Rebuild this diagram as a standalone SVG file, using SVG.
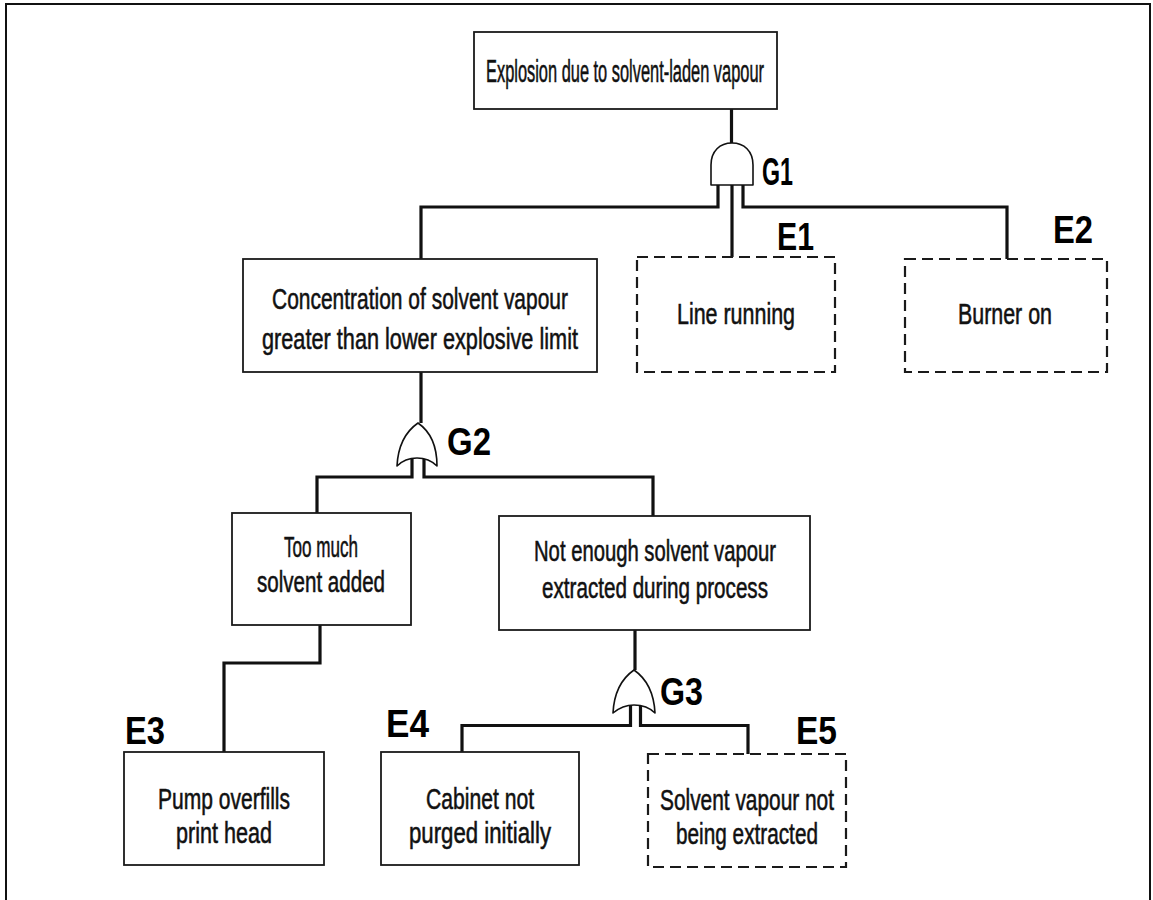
<svg xmlns="http://www.w3.org/2000/svg" width="1153" height="900" viewBox="0 0 1153 900">
<style>
.frame{fill:none;stroke:#111;stroke-width:2}
.box{fill:#fff;stroke:#1a1a1a;stroke-width:1.8}
.dash{fill:#fff;stroke:#1a1a1a;stroke-width:2.2;stroke-dasharray:11 6}
.gate{fill:#fff;stroke:#111;stroke-width:1.6;stroke-linejoin:round}
.wire{fill:none;stroke:#111;stroke-width:3.2;stroke-linejoin:miter;stroke-linecap:butt}
.t{font-family:"Liberation Sans",Arial,sans-serif;font-size:29px;fill:#111;text-anchor:middle;stroke:#111;stroke-width:0.55}
.tb{font-size:31px}
.lbl{font-family:"Liberation Sans",Arial,sans-serif;font-size:39px;font-weight:bold;fill:#000}
</style>
<rect width="1153" height="900" fill="#fff"/>
<path class="frame" d="M6,900 V4 H1150 V900"/>
<g id="connectors">
<path class="wire" d="M731.5,109 V143"/>
<path class="wire" d="M718,185 V207 H421 V259"/>
<path class="wire" d="M732,185 V257"/>
<path class="wire" d="M743,185 V207 H1007 V259"/>
<path class="wire" d="M421,372 V423"/>
<path class="wire" d="M412,458 V477 H317 V513"/>
<path class="wire" d="M424,458 V477 H653 V516"/>
<path class="wire" d="M320,625 V663 H224 V752"/>
<path class="wire" d="M635,630 V670"/>
<path class="wire" d="M630.5,706 V725.5 H462 V752"/>
<path class="wire" d="M640.5,706 V725.5 H748 V754"/>
</g>
<g id="top">
<rect class="box" x="474" y="32" width="303" height="77"/>
<text class="t tb" x="625" y="82" textLength="278" lengthAdjust="spacingAndGlyphs">Explosion due to solvent-laden vapour</text>
</g>
<g id="G1">
<path class="gate" d="M711,185 V165 C711,151 720,143 732,143 C744,143 753,151 753,165 V185 Z"/>
<text class="lbl" x="762" y="185" textLength="31" lengthAdjust="spacingAndGlyphs">G1</text>
</g>
<g id="concentration">
<rect class="box" x="243" y="259" width="354" height="113"/>
<text class="t" x="420" y="309" textLength="296" lengthAdjust="spacingAndGlyphs">Concentration of solvent vapour</text>
<text class="t" x="420" y="349" textLength="316" lengthAdjust="spacingAndGlyphs">greater than lower explosive limit</text>
</g>
<g id="E1">
<rect class="dash" x="637" y="257" width="198" height="115"/>
<text class="t" x="736" y="324" textLength="118" lengthAdjust="spacingAndGlyphs">Line running</text>
<text class="lbl" x="777" y="250" textLength="37" lengthAdjust="spacingAndGlyphs">E1</text>
</g>
<g id="E2">
<rect class="dash" x="905" y="259" width="202" height="113"/>
<text class="t" x="1005" y="324" textLength="94" lengthAdjust="spacingAndGlyphs">Burner on</text>
<text class="lbl" x="1053" y="243" textLength="40" lengthAdjust="spacingAndGlyphs">E2</text>
</g>
<g id="G2">
<path class="gate" d="M397,466 C398,447 405,432 418,423 C431,432 437,447 437,466 C431,460 425,458 417,458 C409,458 402,461 397,466 Z"/>
<text class="lbl" x="447" y="455" textLength="44" lengthAdjust="spacingAndGlyphs">G2</text>
</g>
<g id="too-much">
<rect class="box" x="232" y="513" width="179" height="112"/>
<text class="t" x="321" y="557" textLength="74" lengthAdjust="spacingAndGlyphs">Too much</text>
<text class="t" x="321" y="592" textLength="128" lengthAdjust="spacingAndGlyphs">solvent added</text>
</g>
<g id="not-enough">
<rect class="box" x="499" y="516" width="311" height="114"/>
<text class="t" x="655" y="561" textLength="242" lengthAdjust="spacingAndGlyphs">Not enough solvent vapour</text>
<text class="t" x="655" y="598" textLength="226" lengthAdjust="spacingAndGlyphs">extracted during process</text>
</g>
<g id="G3">
<path class="gate" d="M613,713 C614,694 621,679 634,670 C647,679 654,694 655,713 C649,707 642,705 634,705 C626,705 619,708 613,713 Z"/>
<text class="lbl" x="660" y="705" textLength="43" lengthAdjust="spacingAndGlyphs">G3</text>
</g>
<g id="E3">
<rect class="box" x="124" y="752" width="200" height="113"/>
<text class="t" x="224" y="809" textLength="132" lengthAdjust="spacingAndGlyphs">Pump overfills</text>
<text class="t" x="224" y="843" textLength="96" lengthAdjust="spacingAndGlyphs">print head</text>
<text class="lbl" x="125" y="744" textLength="40" lengthAdjust="spacingAndGlyphs">E3</text>
</g>
<g id="E4">
<rect class="box" x="381" y="752" width="198" height="113"/>
<text class="t" x="480" y="809" textLength="108" lengthAdjust="spacingAndGlyphs">Cabinet not</text>
<text class="t" x="480" y="843" textLength="142" lengthAdjust="spacingAndGlyphs">purged initially</text>
<text class="lbl" x="386" y="737" textLength="43" lengthAdjust="spacingAndGlyphs">E4</text>
</g>
<g id="E5">
<rect class="dash" x="648" y="754" width="198" height="113"/>
<text class="t" x="747" y="810" textLength="174" lengthAdjust="spacingAndGlyphs">Solvent vapour not</text>
<text class="t" x="747" y="844" textLength="142" lengthAdjust="spacingAndGlyphs">being extracted</text>
<text class="lbl" x="796" y="744" textLength="41" lengthAdjust="spacingAndGlyphs">E5</text>
</g>
</svg>
